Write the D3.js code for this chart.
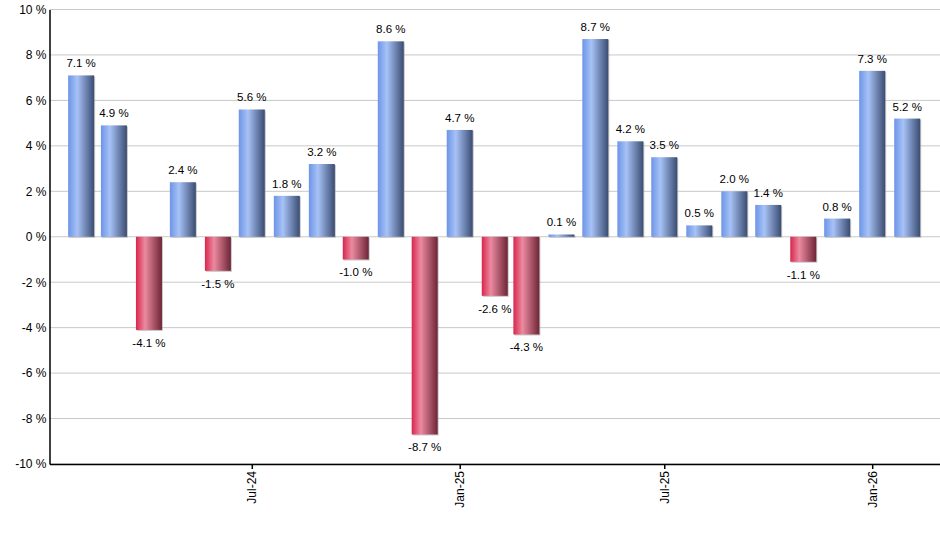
<!DOCTYPE html>
<html>
<head>
<meta charset="utf-8">
<script src="https://cdn.jsdelivr.net/npm/d3@7"></script>
<style>
  body { margin: 0; background: #fff; }
  svg { font-family: "Liberation Sans", Arial, sans-serif; }
</style>
</head>
<body>
<svg width="940" height="550"></svg>
<script>
// monthly returns, Feb-24 .. Feb-26
var months = ["2024-02", "2024-03", "2024-04", "2024-05", "2024-06", "2024-07", "2024-08",
  "2024-09", "2024-10", "2024-11", "2024-12", "2025-01", "2025-02", "2025-03", "2025-04",
  "2025-05", "2025-06", "2025-07", "2025-08", "2025-09", "2025-10", "2025-11", "2025-12",
  "2026-01", "2026-02"];
var returns = [7.1, 4.9, -4.1, 2.4, -1.5, 5.6, 1.8, 3.2, -1.0, 8.6, -8.7, 4.7, -2.6, -4.3,
  0.1, 8.7, 4.2, 3.5, 0.5, 2.0, 1.4, -1.1, 0.8, 7.3, 5.2];
var yTicks = [-10, -8, -6, -4, -2, 0, 2, 4, 6, 8, 10];
var xTicks = ["2024-07", "2025-01", "2025-07", "2026-01"];

var parseMonth = d3.timeParse("%Y-%m");
var data = months.map(function(m, i) {
  return {date: parseMonth(m), value: returns[i]};
});

var svg = d3.select("svg"),
    margin = {top: 9.5, right: 0, bottom: 86, left: 49.5},
    width = 940 - margin.left - margin.right,
    height = 550 - margin.top - margin.bottom,
    g = svg.append("g").attr("transform", "translate(" + margin.left + "," + margin.top + ")");

var x = d3.scaleTime()
    .domain([new Date(2024, 0, 4), new Date(2026, 2, 2)])
    .range([0, width]);

var y = d3.scaleLinear()
    .domain([-10, 10])
    .range([height, 0]);

var barW = 26;

// gradients
var defs = svg.append("defs");
function grad(id, c0, c1, c2) {
  var lg = defs.append("linearGradient").attr("id", id)
      .attr("x1", "0%").attr("x2", "100%").attr("y1", "0%").attr("y2", "0%");
  lg.append("stop").attr("offset", "0%").attr("stop-color", c0);
  lg.append("stop").attr("offset", "35%").attr("stop-color", c1);
  lg.append("stop").attr("offset", "100%").attr("stop-color", c2);
}
grad("gBlue", "#6d94e8", "#a7c2f6", "#3a4c72");
grad("gRed", "#d8264d", "#ec8aa0", "#6e2536");

// grid
g.append("g")
  .selectAll("line")
  .data(yTicks)
  .enter().append("line")
    .attr("x1", 0).attr("x2", width)
    .attr("y1", function(d) { return y(d); })
    .attr("y2", function(d) { return y(d); })
    .attr("stroke", "#c8c8c8")
    .attr("stroke-width", 1);

// shadows
g.append("g")
  .selectAll("rect")
  .data(data)
  .enter().append("rect")
    .attr("x", function(d) { return x(d.date) - barW / 2 + 1; })
    .attr("y", function(d) { return Math.min(y(d.value), y(0)) + 1; })
    .attr("width", barW)
    .attr("height", function(d) { return Math.abs(y(d.value) - y(0)); })
    .attr("fill", "#a0a0a0")
    .attr("opacity", 0.6);

// bars
g.append("g")
  .selectAll("rect")
  .data(data)
  .enter().append("rect")
    .attr("x", function(d) { return x(d.date) - barW / 2; })
    .attr("y", function(d) { return Math.min(y(d.value), y(0)); })
    .attr("width", barW)
    .attr("height", function(d) { return Math.abs(y(d.value) - y(0)); })
    .attr("fill", function(d) { return d.value < 0 ? "url(#gRed)" : "url(#gBlue)"; });

// value labels
g.append("g")
  .selectAll("text")
  .data(data)
  .enter().append("text")
    .attr("x", function(d) { return x(d.date); })
    .attr("y", function(d) { return d.value < 0 ? y(d.value) + 17 : y(d.value) - 8; })
    .attr("text-anchor", "middle")
    .attr("font-size", "11.5px")
    .attr("fill", "#000")
    .text(function(d) { return d.value.toFixed(1) + " %"; });

// y axis
var yAxis = g.append("g")
    .call(d3.axisLeft(y).tickValues(yTicks).tickSize(0).tickPadding(3)
      .tickFormat(function(d) { return d + " %"; }));
yAxis.select(".domain").attr("stroke", "#000").attr("stroke-width", 1.5);
yAxis.selectAll("text").attr("font-size", "12px").attr("fill", "#000")
    .attr("font-family", "Liberation Sans, Arial, sans-serif");

// x axis
var xAxis = g.append("g")
    .attr("transform", "translate(0," + height + ")")
    .call(d3.axisBottom(x).tickValues(xTicks.map(parseMonth)).tickSize(5).tickSizeOuter(0)
      .tickFormat(d3.timeFormat("%b-%y")));
xAxis.select(".domain").attr("stroke", "#000").attr("stroke-width", 1.5);
xAxis.selectAll(".tick line").attr("stroke", "#000").attr("stroke-width", 1.5);
xAxis.selectAll("text")
    .attr("font-size", "12px").attr("fill", "#000")
    .attr("font-family", "Liberation Sans, Arial, sans-serif")
    .attr("transform", "rotate(-90)")
    .attr("text-anchor", "end")
    .attr("x", -7).attr("y", 0).attr("dy", "0.35em");
</script>
</body>
</html>
